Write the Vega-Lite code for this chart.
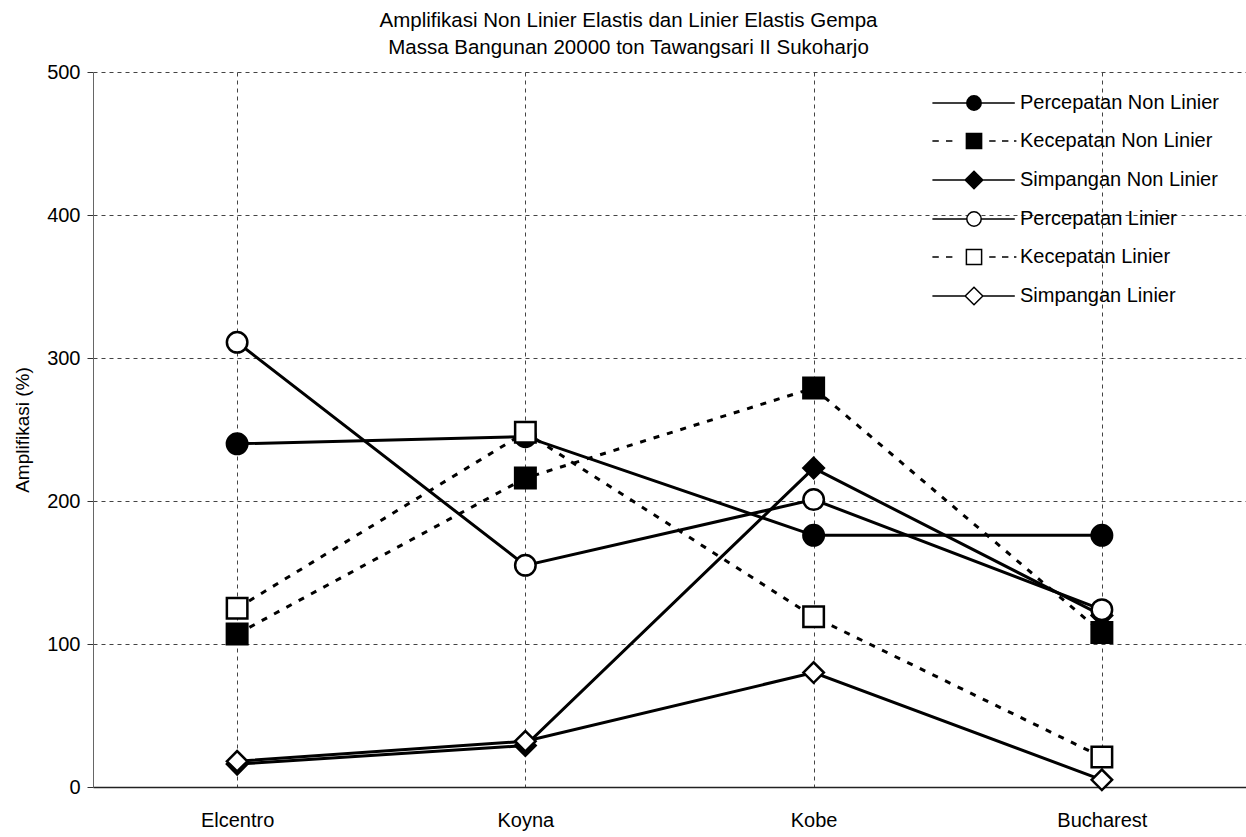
{
  "$schema": "https://vega.github.io/schema/vega-lite/v6.json",
  "width": 1153,
  "height": 715,
  "autosize": {"type": "none"},
  "padding": {"left": 93, "top": 72, "right": 0, "bottom": 50},
  "background": "white",
  "config": {
    "view": {"stroke": null},
    "font": "Liberation Sans"
  },
  "title": {
    "text": ["Amplifikasi Non Linier Elastis dan Linier Elastis Gempa", "Massa Bangunan 20000 ton Tawangsari II Sukoharjo"],
    "fontSize": 20.5,
    "fontWeight": "normal",
    "font": "Liberation Sans",
    "color": "black",
    "anchor": "middle",
    "lineHeight": 26.5,
    "offset": 4,
    "dx": -41
  },
  "data": {
    "values": [
      {"event": "Elcentro", "series": "Percepatan Non Linier", "value": 240},
      {"event": "Koyna", "series": "Percepatan Non Linier", "value": 245},
      {"event": "Kobe", "series": "Percepatan Non Linier", "value": 176},
      {"event": "Bucharest", "series": "Percepatan Non Linier", "value": 176},
      {"event": "Elcentro", "series": "Kecepatan Non Linier", "value": 107},
      {"event": "Koyna", "series": "Kecepatan Non Linier", "value": 216},
      {"event": "Kobe", "series": "Kecepatan Non Linier", "value": 279},
      {"event": "Bucharest", "series": "Kecepatan Non Linier", "value": 108},
      {"event": "Elcentro", "series": "Simpangan Non Linier", "value": 16},
      {"event": "Koyna", "series": "Simpangan Non Linier", "value": 29},
      {"event": "Kobe", "series": "Simpangan Non Linier", "value": 223},
      {"event": "Bucharest", "series": "Simpangan Non Linier", "value": 120},
      {"event": "Elcentro", "series": "Percepatan Linier", "value": 311},
      {"event": "Koyna", "series": "Percepatan Linier", "value": 155},
      {"event": "Kobe", "series": "Percepatan Linier", "value": 201},
      {"event": "Bucharest", "series": "Percepatan Linier", "value": 124},
      {"event": "Elcentro", "series": "Kecepatan Linier", "value": 125},
      {"event": "Koyna", "series": "Kecepatan Linier", "value": 248},
      {"event": "Kobe", "series": "Kecepatan Linier", "value": 119},
      {"event": "Bucharest", "series": "Kecepatan Linier", "value": 21},
      {"event": "Elcentro", "series": "Simpangan Linier", "value": 18},
      {"event": "Koyna", "series": "Simpangan Linier", "value": 32},
      {"event": "Kobe", "series": "Simpangan Linier", "value": 80},
      {"event": "Bucharest", "series": "Simpangan Linier", "value": 5}
    ]
  },
  "encoding": {
    "x": {
      "field": "event",
      "type": "nominal",
      "sort": ["Elcentro", "Koyna", "Kobe", "Bucharest"],
      "scale": {"type": "point", "padding": 0.5},
      "axis": {
        "title": null,
        "labelAngle": 0,
        "labelFontSize": 20,
        "labelFont": "Liberation Sans",
        "labelColor": "black",
        "labelPadding": 23,
        "ticks": false,
        "domainColor": "#222",
        "domainWidth": 1.5,
        "grid": true,
        "gridColor": "#444",
        "gridWidth": 1,
        "gridDash": [4, 4]
      }
    },
    "y": {
      "field": "value",
      "type": "quantitative",
      "scale": {"domain": [0, 500], "nice": false},
      "axis": {
        "title": "Amplifikasi (%)",
        "titleFontSize": 19,
        "titleFont": "Liberation Sans",
        "titleFontWeight": "normal",
        "titleColor": "black",
        "titlePadding": 14,
        "values": [0, 100, 200, 300, 400, 500],
        "labelFontSize": 20,
        "labelFont": "Liberation Sans",
        "labelColor": "black",
        "labelPadding": 7,
        "tickSize": 6,
        "tickColor": "#333",
        "domainColor": "#666",
        "domainWidth": 1,
        "grid": true,
        "gridColor": "#444",
        "gridWidth": 1,
        "gridDash": [4, 4]
      }
    }
  },
  "layer": [
    {
      "transform": [{"filter": "indexof(datum.series, 'Kecepatan') !== 0"}],
      "mark": {"type": "line", "strokeWidth": 3, "color": "black"},
      "encoding": {
        "detail": {"field": "series", "type": "nominal"},
        "order": {"value": null}
      }
    },
    {
      "transform": [{"filter": "indexof(datum.series, 'Kecepatan') === 0"}],
      "mark": {"type": "line", "strokeWidth": 3, "color": "black", "strokeDash": [6, 8]},
      "encoding": {
        "detail": {"field": "series", "type": "nominal"},
        "order": {"value": null}
      }
    },
    {
      "transform": [{"filter": "false"}],
      "mark": {"type": "point", "stroke": "black", "strokeWidth": 2.5, "opacity": 1},
      "encoding": {
        "shape": {
          "field": "series",
          "type": "nominal",
          "scale": {
            "domain": ["Percepatan Non Linier", "Kecepatan Non Linier", "Simpangan Non Linier", "Percepatan Linier", "Kecepatan Linier", "Simpangan Linier"],
            "range": [
              "M-5.2,0H-0.9M0.9,0H5.1M-0.9,0A0.9,0.9,0,1,0,0.9,0A0.9,0.9,0,1,0,-0.9,0Z",
              "M-5.2,0H-4.4M-3.5,0H-2.7M1.9,0H2.7M3.5,0H4.3M5,0H5.3M-0.95,-0.95H0.95V0.95H-0.95Z",
              "M-5.2,0H-1.1M1.1,0H5.1M0,-1.1L1.1,0L0,1.1L-1.1,0Z",
              "M-5.2,0H-0.9M0.9,0H5.1M-0.9,0A0.9,0.9,0,1,0,0.9,0A0.9,0.9,0,1,0,-0.9,0Z",
              "M-5.2,0H-4.4M-3.5,0H-2.7M1.9,0H2.7M3.5,0H4.3M5,0H5.3M-0.95,-0.95H0.95V0.95H-0.95Z",
              "M-5.2,0H-1.1M1.1,0H5.1M0,-1.1L1.1,0L0,1.1L-1.1,0Z"
            ]
          },
          "legend": {
            "title": null,
            "orient": "none",
            "legendX": 871,
            "legendY": 21,
            "labelFontSize": 20,
            "labelFont": "Liberation Sans",
            "labelColor": "black",
            "labelLimit": 400,
            "symbolSize": 256,
            "labelOffset": 36,
            "rowPadding": 16
          }
        },
        "fill": {
          "field": "series",
          "type": "nominal",
          "scale": {
            "domain": ["Percepatan Non Linier", "Kecepatan Non Linier", "Simpangan Non Linier", "Percepatan Linier", "Kecepatan Linier", "Simpangan Linier"],
            "range": ["black", "black", "black", "white", "white", "white"]
          },
          "legend": {
            "title": null,
            "orient": "none",
            "legendX": 871,
            "legendY": 21,
            "labelFontSize": 20,
            "labelFont": "Liberation Sans",
            "labelColor": "black",
            "labelLimit": 400,
            "symbolSize": 256,
            "labelOffset": 36,
            "rowPadding": 16
          }
        }
      }
    },
    {
      "mark": {"type": "point", "stroke": "black", "strokeWidth": 2.5, "opacity": 1, "size": 420},
      "encoding": {
        "shape": {
          "field": "series",
          "type": "nominal",
          "scale": {
            "domain": ["Percepatan Non Linier", "Kecepatan Non Linier", "Simpangan Non Linier", "Percepatan Linier", "Kecepatan Linier", "Simpangan Linier"],
            "range": ["circle", "square", "diamond", "circle", "square", "diamond"]
          },
          "legend": null
        },
        "fill": {
          "field": "series",
          "type": "nominal",
          "scale": {
            "domain": ["Percepatan Non Linier", "Kecepatan Non Linier", "Simpangan Non Linier", "Percepatan Linier", "Kecepatan Linier", "Simpangan Linier"],
            "range": ["black", "black", "black", "white", "white", "white"]
          },
          "legend": null
        }
      }
    }
  ],
  "resolve": {"scale": {"shape": "independent", "fill": "independent"}}
}
